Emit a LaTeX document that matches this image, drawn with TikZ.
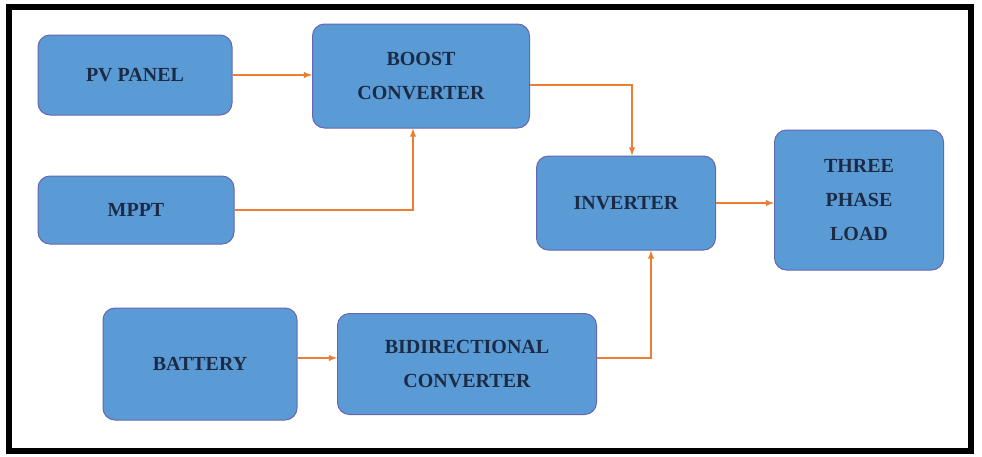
\documentclass[tikz,border=0pt]{standalone}
\usepackage{fontspec}
\setmainfont{Liberation Serif}
\begin{document}
\begin{tikzpicture}[x=1pt,y=-1pt,
  blk/.style={draw=blue!50!black!60, line width=1pt, fill=bfill, rounded corners=12pt, align=center, inner sep=0pt, font=\fontsize{20}{34}\selectfont\bfseries, text=tcol},
  arr/.style={draw=aorange, line width=1.8pt, -latex}]
\definecolor{bfill}{HTML}{5B9BD5}
\definecolor{tcol}{HTML}{1C2B45}
\definecolor{aorange}{HTML}{ED7D31}
\useasboundingbox (0,0) rectangle (982,456);
\fill[white] (0,0) rectangle (982,456);
\draw[line width=6pt] (9,7) rectangle (971,451);
\node[blk, minimum width=194pt, minimum height=80pt] (pv) at (135,75) {PV PANEL};
\node[blk, minimum width=217pt, minimum height=104pt] (boost) at (421,76) {BOOST\\CONVERTER};
\node[blk, minimum width=196pt, minimum height=68pt] (mppt) at (136,210) {MPPT};
\node[blk, minimum width=179pt, minimum height=94pt] (inv) at (626,203) {INVERTER};
\node[blk, minimum width=169pt, minimum height=140pt] (load) at (859,200) {THREE\\PHASE\\LOAD};
\node[blk, minimum width=194pt, minimum height=112pt] (bat) at (200,364) {BATTERY};
\node[blk, minimum width=259pt, minimum height=101pt] (bidi) at (467,364) {BIDIRECTIONAL\\CONVERTER};
\draw[arr] (pv.east) -- (boost.west |- pv.east);
\draw[arr] (mppt.east) -| (413,0 |- boost.south);
\draw[arr] (boost.east |- 0,85) -| (632,0 |- inv.north);
\draw[arr] (inv.east) -- (load.west |- inv.east);
\draw[arr] (bat.east |- 0,358) -- (bidi.west |- 0,358);
\draw[arr] (bidi.east |- 0,358) -| (651,0 |- inv.south);
\end{tikzpicture}
\end{document}
